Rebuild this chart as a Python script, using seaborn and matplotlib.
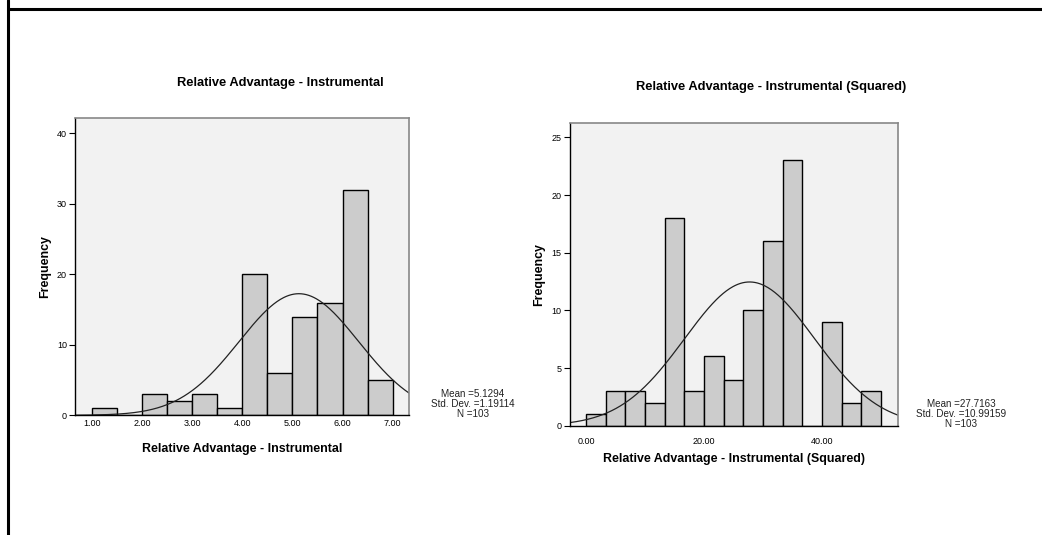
import numpy as np
import pandas as pd
import matplotlib
matplotlib.use("Agg")
import matplotlib.pyplot as plt
import seaborn as sns
from matplotlib.lines import Line2D

sns.set_theme(style="white")
plt.rcParams['font.family'] = ['Liberation Sans', 'DejaVu Sans']
plt.rcParams.update({"text.color": "black", "axes.labelcolor": "black",
                     "xtick.color": "black", "ytick.color": "black"})

# ---- data ----
left_title = "Relative Advantage - Instrumental"
left_edges = [1.0, 1.5, 2.0, 2.5, 3.0, 3.5, 4.0, 4.5, 5.0, 5.5, 6.0, 6.5, 7.0]
left_counts = [1, 0, 3, 2, 3, 1, 20, 6, 14, 16, 32, 5]
left_mean, left_sd, left_n = 5.1294, 1.19114, 103
left_xticks = [1.0, 2.0, 3.0, 4.0, 5.0, 6.0, 7.0]
left_yticks = [0, 10, 20, 30, 40]

right_title = "Relative Advantage - Instrumental (Squared)"
right_edges = [i * 50 / 15 for i in range(16)]
right_counts = [1, 3, 3, 2, 18, 3, 6, 4, 10, 16, 23, 0, 9, 2, 3]
right_mean, right_sd, right_n = 27.7163, 10.99159, 103
right_xticks = [0.0, 20.0, 40.0]
right_yticks = [0, 5, 10, 15, 20, 25]

stats_left = "Mean =5.1294\nStd. Dev. =1.19114\nN =103"
stats_right = "Mean =27.7163\nStd. Dev. =10.99159\nN =103"

fig = plt.figure(figsize=(10.42, 5.35), dpi=100)
W, H = 1042, 535

def px_axes(x0, y0, x1, y1):
    return fig.add_axes([x0 / W, 1 - y1 / H, (x1 - x0) / W, (y1 - y0) / H])

ax1 = px_axes(75.3, 118.3, 409.3, 415.3)
ax2 = px_axes(570, 122.7, 898.3, 425.7)

def draw(ax, edges, counts, mean, sd, n, xlim, ylim, xticks, yticks, xlabel,
         xpad, xlab_y, ylab_x):
    e = np.array(edges)
    centers = (e[:-1] + e[1:]) / 2
    df = pd.DataFrame({"x": centers, "w": counts})
    sns.histplot(data=df, x="x", weights="w", bins=list(edges), ax=ax,
                 color="#cccccc", alpha=1.0, edgecolor="black", linewidth=1.0)
    bw = e[1] - e[0]
    xs = np.linspace(xlim[0], xlim[1], 400)
    ys = n * bw * np.exp(-0.5 * ((xs - mean) / sd) ** 2) / (sd * np.sqrt(2 * np.pi))
    sns.lineplot(x=xs, y=ys, ax=ax, color="#222222", linewidth=0.9)
    ax.set_xlim(*xlim)
    ax.set_ylim(*ylim)
    ax.set_facecolor("#f2f2f2")
    ax.set_xticks(xticks)
    ax.set_xticklabels([f"{t:.2f}" for t in xticks], fontsize=6.5)
    ax.set_yticks(yticks)
    ax.set_yticklabels([str(t) for t in yticks], fontsize=6.5)
    ax.tick_params(axis="y", length=4, width=0.8, color="black", pad=2, direction="out", left=True)
    ax.tick_params(axis="x", length=0, pad=xpad)
    for s in ["left", "bottom"]:
        ax.spines[s].set_color("black")
        ax.spines[s].set_linewidth(1.0)
    for s in ["top", "right"]:
        ax.spines[s].set_color("#888888")
        ax.spines[s].set_linewidth(1.2)
    ax.set_xlabel(xlabel, fontsize=8.9, fontweight="bold", va="center")
    ax.set_ylabel("Frequency", fontsize=8.9, fontweight="bold", va="center")
    ax.xaxis.set_label_coords(0.5, xlab_y)
    ax.yaxis.set_label_coords(ylab_x, 0.5)

draw(ax1, left_edges, left_counts, left_mean, left_sd, left_n,
     (0.674, 7.33), (0, 42.13), left_xticks, left_yticks, left_title,
     2.5, -0.1135, -0.0907)
draw(ax2, right_edges, right_counts, right_mean, right_sd, right_n,
     (-2.7, 52.9), (0, 26.27), right_xticks, right_yticks, right_title,
     8, -0.111, -0.0935)

fig.text(280 / W, 1 - 83.3 / H, left_title, ha="center", va="center",
         fontsize=9.3, fontweight="bold")
fig.text(771 / W, 1 - 86.7 / H, right_title, ha="center", va="center",
         fontsize=9.3, fontweight="bold")

fig.text(473 / W, 1 - 404 / H, stats_left, ha="center", va="center",
         fontsize=7.1, linespacing=1.05, color="#222222")
fig.text(961 / W, 1 - 414 / H, stats_right, ha="center", va="center",
         fontsize=7.1, linespacing=1.05, color="#222222")

# border lines
fig.add_artist(Line2D([8 / W, 8 / W], [0, 1], transform=fig.transFigure,
                      color="black", linewidth=2.2))
fig.add_artist(Line2D([8 / W, 1], [1 - 9 / H, 1 - 9 / H], transform=fig.transFigure,
                      color="black", linewidth=2.2))

fig.savefig("out.png", dpi=100, facecolor="white")
